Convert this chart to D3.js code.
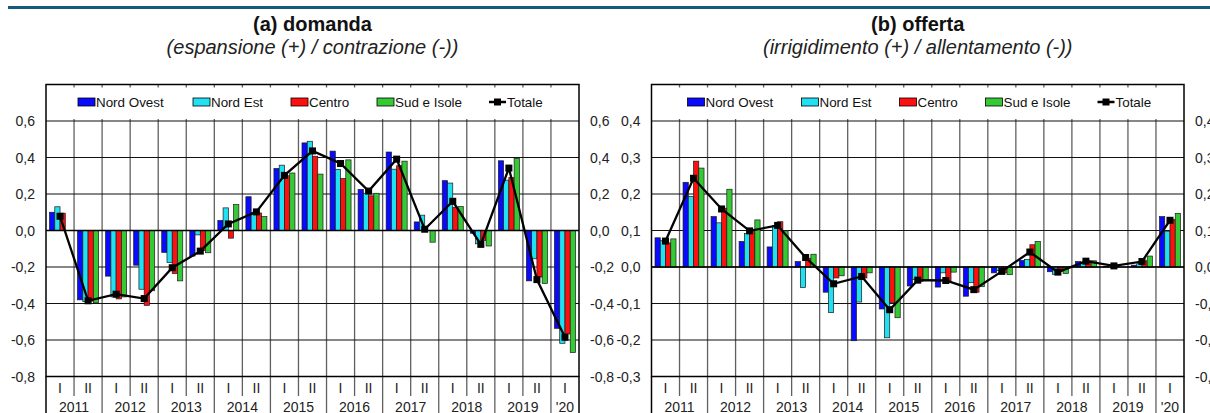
<!DOCTYPE html>
<html><head><meta charset="utf-8">
<script src="https://cdn.jsdelivr.net/npm/d3@7"></script>
<style>
html,body{margin:0;padding:0;background:#fff;}
svg{display:block;font-family:"Liberation Sans",Arial,Helvetica,sans-serif;}
</style></head>
<body><svg id="c" width="1210" height="413"></svg>
<script>
// ---- data ----
const halfLabels = ["I","II","I","II","I","II","I","II","I","II","I","II","I","II","I","II","I","II","I"];
const yearLabels = ["2011","2012","2013","2014","2015","2016","2017","2018","2019","'20"];
const periods = halfLabels.map((h,i)=> (yearLabels[Math.floor(i/2)]) + " " + h);
const seriesNames = ["Nord Ovest","Nord Est","Centro","Sud e Isole"];
const totalName = "Totale";

// (a) domanda
const domNordOvest = [0.10,-0.38,-0.25,-0.19,-0.12,-0.14,0.055,0.185,0.34,0.48,0.435,0.225,0.43,0.047,0.273,-0.015,0.382,-0.276,-0.536];
const domNordEst   = [0.13,-0.39,-0.364,-0.322,-0.176,-0.024,0.124,0.10,0.358,0.489,0.335,0.204,0.336,0.084,0.26,-0.073,0.276,-0.155,-0.618];
const domCentro    = [0.095,-0.387,-0.375,-0.41,-0.236,-0.11,-0.042,0.096,0.30,0.407,0.285,0.19,0.355,0.0,0.127,-0.055,0.29,-0.255,-0.567];
const domSud       = [0.0,-0.396,-0.364,-0.33,-0.276,-0.122,0.142,0.076,0.315,0.309,0.387,0.204,0.38,-0.064,0.131,-0.085,0.395,-0.29,-0.669];
const domTotale    = [0.078,-0.385,-0.349,-0.373,-0.204,-0.113,0.036,0.102,0.302,0.436,0.367,0.216,0.391,0.007,0.16,-0.076,0.342,-0.269,-0.585];
const domTicks = [-0.8,-0.6,-0.4,-0.2,0.0,0.2,0.4,0.6];

// (b) offerta
const offNordOvest = [0.080,0.232,0.138,0.070,0.055,0.015,-0.069,-0.202,-0.115,-0.052,-0.055,-0.080,-0.016,0.018,-0.013,0.015,0.002,0.005,0.138];
const offNordEst   = [0.072,0.193,0.121,0.092,0.113,-0.056,-0.125,-0.096,-0.194,-0.034,-0.016,-0.043,-0.010,0.021,-0.020,0.013,0.0,0.009,0.098];
const offCentro    = [0.066,0.290,0.161,0.100,0.124,0.024,-0.030,-0.030,-0.098,-0.039,-0.041,-0.069,-0.016,0.061,-0.011,0.017,0.004,0.017,0.130];
const offSud       = [0.077,0.271,0.213,0.129,0.099,0.035,-0.024,-0.016,-0.139,-0.034,-0.014,-0.054,-0.021,0.070,-0.018,0.017,0.0,0.030,0.147];
const offTotale    = [0.071,0.243,0.159,0.099,0.114,0.026,-0.046,-0.026,-0.117,-0.036,-0.037,-0.062,-0.012,0.041,-0.014,0.016,0.003,0.015,0.128];
const offTicks = [-0.3,-0.2,-0.1,0.0,0.1,0.2,0.3,0.4];

const colors = ["#0a0aff","#20e0f2","#ff1010","#36c936"];
// ---- drawing ----
const svg = d3.select("#c");
const fmt = v => d3.format(".1f")(v).replace(".",",").replace("−","-");

svg.append("rect").attr("x",8).attr("y",6).attr("width",1202).attr("height",3).attr("fill","#135a7c");

function panel(cfg){
  const g = svg.append("g");
  const x = d3.scaleBand().domain(periods).range([cfg.x0,cfg.x1]).padding(0);
  const xs = d3.scaleBand().domain(seriesNames).range([0,x.bandwidth()]).paddingInner(0).paddingOuter(0.67);
  const y = d3.scaleLinear().domain(cfg.domain).range([cfg.y1,cfg.y0]);
  const yTop = cfg.y0, yBot = cfg.y1;

  // titles
  const cx = (cfg.x0+cfg.x1)/2;
  g.append("text").attr("x",cx).attr("y",31).attr("text-anchor","middle")
    .attr("font-size",20).attr("font-weight","bold").attr("fill","#111").text(cfg.title);
  g.append("text").attr("x",cx).attr("y",54).attr("text-anchor","middle")
    .attr("font-size",20).attr("font-style","italic").attr("fill","#222").text(cfg.subtitle);

  // vertical grid lines (category boundaries), extended below the frame
  periods.forEach((p,i)=>{
    if(i===0) return;
    const xx = x(p);
    const long = (i%2===0);
    g.append("line").attr("x1",xx).attr("x2",xx).attr("y1",yTop).attr("y2",long?413:396)
      .attr("stroke","#606060").attr("stroke-width",1.3);
  });
  // horizontal grid lines
  cfg.ticks.forEach(t=>{
    g.append("line").attr("x1",cfg.x0).attr("x2",cfg.x1).attr("y1",y(t)).attr("y2",y(t))
      .attr("stroke","#111").attr("stroke-width",1.2);
  });

  // bars
  const data = cfg.series;
  periods.forEach((p,i)=>{
    data.forEach((arr,s)=>{
      const v = arr[i];
      g.append("rect").attr("x",x(p)+xs(seriesNames[s])).attr("width",xs.bandwidth())
        .attr("y",Math.min(y(v),y(0))).attr("height",Math.abs(y(v)-y(0)))
        .attr("fill",colors[s]).attr("stroke","#1a1a1a").attr("stroke-width",0.7);
    });
  });
  // zero line on top of bars
  g.append("line").attr("x1",cfg.x0).attr("x2",cfg.x1).attr("y1",y(0)).attr("y2",y(0))
    .attr("stroke","#000").attr("stroke-width",1.3);

  // total line
  const line = d3.line().x((d,i)=>x(periods[i])+x.bandwidth()/2).y(d=>y(d));
  g.append("path").datum(cfg.total).attr("d",line).attr("fill","none").attr("stroke","#000").attr("stroke-width",2.3);
  g.selectAll(null).data(cfg.total).enter().append("rect")
    .attr("x",(d,i)=>x(periods[i])+x.bandwidth()/2-3.5).attr("y",d=>y(d)-3.5)
    .attr("width",7).attr("height",7).attr("fill","#000");

  // legend (white box covering grid)
  g.append("rect").attr("x",cfg.x0+2).attr("y",yTop+3).attr("width",cfg.x1-cfg.x0-4).attr("height",y(cfg.ticks[cfg.ticks.length-1])-yTop-5).attr("fill","#fff");
  const legItems = seriesNames.concat([totalName]);
  legItems.forEach((name,k)=>{
    const lx = cfg.x0 + cfg.legendOffsets[k];
    const ly = 102;
    if(k<4){
      g.append("rect").attr("x",lx).attr("y",ly-4).attr("width",17).attr("height",8)
        .attr("fill",colors[k]).attr("stroke","#000").attr("stroke-width",0.8);
    } else {
      g.append("line").attr("x1",lx).attr("x2",lx+17).attr("y1",ly).attr("y2",ly).attr("stroke","#000").attr("stroke-width",2.5);
      g.append("rect").attr("x",lx+5).attr("y",ly-3.5).attr("width",7).attr("height",7).attr("fill","#000");
    }
    g.append("text").attr("x",lx+18).attr("y",ly+5).attr("font-size",13.4).attr("fill","#111").text(name);
  });

  // frame
  g.append("rect").attr("x",cfg.x0).attr("y",yTop).attr("width",cfg.x1-cfg.x0).attr("height",yBot-yTop)
    .attr("fill","none").attr("stroke","#000").attr("stroke-width",1.5);
  [cfg.x0,cfg.x1].forEach(xx=>{
    g.append("line").attr("x1",xx).attr("x2",xx).attr("y1",yBot).attr("y2",413).attr("stroke","#000").attr("stroke-width",1.5);
  });

  // y axis labels (left, right-aligned) and right (left-aligned)
  cfg.ticks.forEach(t=>{
    g.append("text").attr("x",cfg.x0-11).attr("y",y(t)+5).attr("text-anchor","end")
      .attr("font-size",14).attr("fill","#222").text(fmt(t));
    g.append("text").attr("x",cfg.x1+11).attr("y",y(t)+5).attr("text-anchor","start")
      .attr("font-size",14).attr("fill","#222").text(fmt(t));
  });

  // x labels
  periods.forEach((p,i)=>{
    g.append("text").attr("x",x(p)+x.bandwidth()/2).attr("y",393).attr("text-anchor","middle")
      .attr("font-size",14).attr("fill","#222").text(halfLabels[i]);
  });
  yearLabels.forEach((yl,j)=>{
    const a = x(periods[2*j]);
    const b = (2*j+1<periods.length) ? x(periods[2*j+1])+x.bandwidth() : a + x.bandwidth();
    g.append("text").attr("x",(a+b)/2).attr("y",411.5).attr("text-anchor","middle")
      .attr("font-size",14).attr("fill","#222").text(yl);
  });
}

panel({x0:46,x1:579,y0:84.5,y1:376.5,domain:[-0.8,0.8],ticks:domTicks,
  title:"(a) domanda",subtitle:"(espansione (+) / contrazione (-))",
  series:[domNordOvest,domNordEst,domCentro,domSud],total:domTotale,
  legendOffsets:[32,147,245,331,443]});
panel({x0:651.5,x1:1184,y0:84.5,y1:376.5,domain:[-0.3,0.5],ticks:offTicks,
  title:"(b) offerta",subtitle:"(irrigidimento (+) / allentamento (-))",
  series:[offNordOvest,offNordEst,offCentro,offSud],total:offTotale,
  legendOffsets:[36,150,248,334,446]});
</script></body></html>
